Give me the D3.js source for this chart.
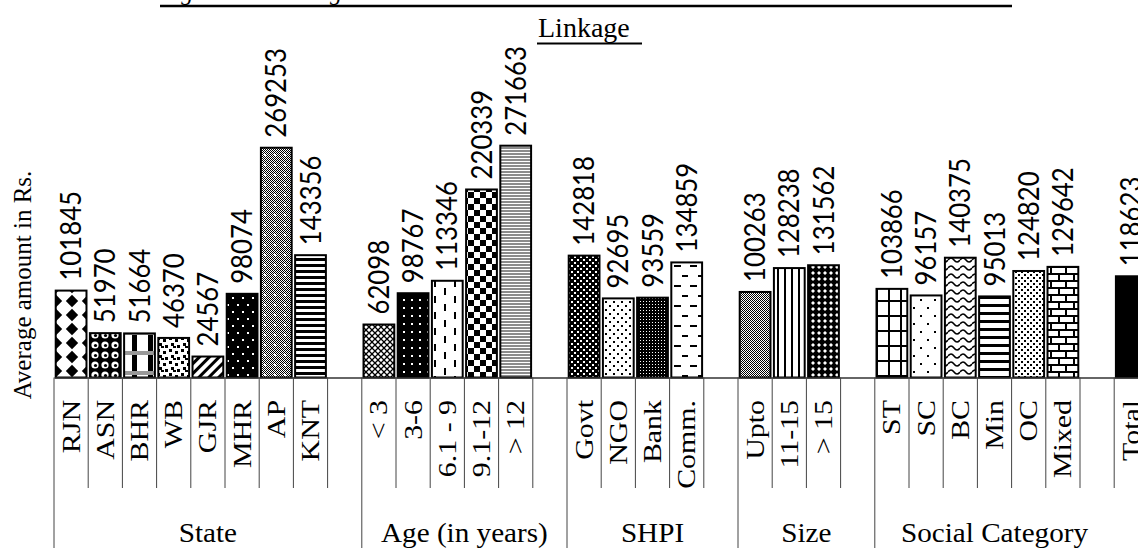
<!DOCTYPE html>
<html>
<head>
<meta charset="utf-8">
<script src="https://cdn.jsdelivr.net/npm/d3@7"></script>
<style>
  body { margin: 0; background: #fff; }
  svg { display: block; }
</style>
</head>
<body>
<script>
// categories and values, one list per group
const groupNames = ['State', 'Age (in years)', 'SHPI', 'Size', 'Social Category', '']
const states = ['RJN', 'ASN', 'BHR', 'WB', 'GJR', 'MHR', 'AP', 'KNT']
const stateValues = [101845, 51970, 51664, 46370, 24567, 98074, 269253, 143356]
const ages = ['< 3', '3-6', '6.1 - 9', '9.1-12', '> 12']
const ageValues = [62098, 98767, 113346, 220339, 271663]
const shpis = ['Govt', 'NGO', 'Bank', 'Comm.']
const shpiValues = [142818, 92695, 93559, 134859]
const sizes = ['Upto', '11-15', '> 15']
const sizeValues = [100263, 128238, 131562]
const socials = ['ST', 'SC', 'BC', 'Min', 'OC', 'Mixed']
const socialValues = [103866, 96157, 140375, 95013, 124820, 129642]
const totals = ['Total']
const totalValues = [118623]

const groupCats = [states, ages, shpis, sizes, socials, totals]
const groupValues = [stateValues, ageValues, shpiValues, sizeValues, socialValues, totalValues]

// fill pattern for each bar, in bar order
const barPatterns = [
  'diamond', 'sphere', 'plaid', 'confetti', 'updiag', 'blackdots', 'graydots', 'hstripe',
  'trellis', 'blackdots2', 'vdash', 'checker', 'grayline',
  'smallcheck', 'sparsedots', 'darkgrid', 'hdash',
  'gray50', 'vstripe', 'darkdiamond',
  'grid', 'dotgrid', 'wave', 'hwide', 'dots20', 'brick',
  'solid',
]

const width = 1138
const height = 548
const left = 54
const slotW = 34.2
const baseY = 377.5
const tickEnd = 488

// slots: each group's categories, then one empty slot
const slots = []
let barIndex = 0
groupNames.forEach((g, gi) => {
  groupCats[gi].forEach((c, ci) => {
    slots.push({ key: gi + '|' + c, cat: c, value: groupValues[gi][ci], group: gi, first: ci === 0, pat: barPatterns[barIndex++] })
  })
  slots.push({ key: gi + '|blank', cat: null, group: gi, first: false })
})

const svg = d3.select('body').append('svg').attr('width', width).attr('height', height)
const defs = svg.append('defs')

function pat(id, w, h, draw, transform) {
  const p = defs.append('pattern').attr('id', id)
    .attr('patternUnits', 'userSpaceOnUse').attr('width', w).attr('height', h)
    .attr('shape-rendering', 'crispEdges')
  if (transform) p.attr('patternTransform', transform)
  draw(p)
}
const rect = (p, x, y, w, h, fill) => p.append('rect').attr('x', x).attr('y', y).attr('width', w).attr('height', h).attr('fill', fill)

pat('diamond', 16, 14, (p) => {
  rect(p, 0, 0, 16, 14, '#fff')
  p.append('path').attr('d', 'M8,0.8L14.2,7L8,13.2L1.8,7Z').attr('fill', '#000').attr('shape-rendering', 'auto')
})
pat('sphere', 10, 10, (p) => {
  rect(p, 0, 0, 10, 10, '#000')
  p.append('circle').attr('cx', 5).attr('cy', 5).attr('r', 3.6).attr('fill', '#fff').attr('shape-rendering', 'auto')
  p.append('circle').attr('cx', 5.5).attr('cy', 5.5).attr('r', 1.6).attr('fill', '#000').attr('shape-rendering', 'auto')
})
pat('plaid', 16, 20, (p) => {
  rect(p, 0, 0, 16, 20, '#fff')
  rect(p, 4, 0, 5, 20, '#000')
  rect(p, 0, 11, 16, 4, '#999')
})
pat('confetti', 12, 12, (p) => {
  rect(p, 0, 0, 12, 12, '#fff')
  ;[[1, 1], [7, 3], [3, 7], [9, 9], [5, 10]].forEach(([x, y]) => rect(p, x, y, 3, 2.5, '#000'))
})
pat('updiag', 7, 7, (p) => {
  rect(p, 0, 0, 7, 7, '#fff')
  rect(p, 0, 0, 3, 7, '#000')
}, 'rotate(45)')
pat('blackdots', 10, 14, (p) => {
  rect(p, 0, 0, 10, 14, '#000')
  rect(p, 2, 3, 1.5, 1.5, '#fff')
  rect(p, 7, 10, 1.5, 1.5, '#fff')
})
pat('graydots', 10, 10, (p) => {
  rect(p, 0, 0, 10, 10, '#fff')
  for (let i = 0; i < 10; i++) for (let j = 0; j < 10; j++) if ((i + j) % 2 === 0) rect(p, i, j, 1, 1, '#000')
  rect(p, 4, 4, 2, 2, '#fff')
})
pat('hstripe', 6, 6, (p) => {
  rect(p, 0, 0, 6, 6, '#fff')
  rect(p, 0, 0, 6, 3, '#000')
})
pat('trellis', 6, 6, (p) => {
  rect(p, 0, 0, 6, 6, '#fff')
  p.append('path').attr('d', 'M0,0L6,6M6,0L0,6').attr('stroke', '#000').attr('stroke-width', 1.3).attr('shape-rendering', 'auto')
})
pat('blackdots2', 8, 8, (p) => {
  rect(p, 0, 0, 8, 8, '#000')
  rect(p, 3, 3, 1.5, 1.5, '#fff')
})
pat('vdash', 20, 16, (p) => {
  rect(p, 0, 0, 20, 16, '#fff')
  rect(p, 4, 0, 2, 7, '#000')
  rect(p, 14, 8, 2, 7, '#000')
})
pat('checker', 12, 12, (p) => {
  rect(p, 0, 0, 12, 12, '#fff')
  rect(p, 0, 0, 6, 6, '#000')
  rect(p, 6, 6, 6, 6, '#000')
})
pat('grayline', 4, 3, (p) => {
  rect(p, 0, 0, 4, 3, '#8c8c8c')
  rect(p, 0, 2, 4, 1, '#fff')
})
pat('smallcheck', 6, 6, (p) => {
  rect(p, 0, 0, 6, 6, '#000')
  rect(p, 1, 1, 2, 2, '#fff')
  rect(p, 4, 4, 2, 2, '#fff')
})
pat('sparsedots', 8, 8, (p) => {
  rect(p, 0, 0, 8, 8, '#fff')
  rect(p, 1, 1, 1.5, 1.5, '#000')
  rect(p, 5, 5, 1.5, 1.5, '#000')
})
pat('darkgrid', 3, 3, (p) => {
  rect(p, 0, 0, 3, 3, '#000')
  rect(p, 1, 1, 1, 1, '#fff')
})
pat('hdash', 16, 20, (p) => {
  rect(p, 0, 0, 16, 20, '#fff')
  rect(p, 2, 5, 7, 2, '#000')
  rect(p, 10, 15, 7, 2, '#000')
})
pat('gray50', 2, 2, (p) => {
  rect(p, 0, 0, 2, 2, '#fff')
  rect(p, 0, 0, 1, 1, '#000')
  rect(p, 1, 1, 1, 1, '#000')
})
pat('vstripe', 7, 7, (p) => {
  rect(p, 0, 0, 7, 7, '#fff')
  rect(p, 0, 0, 2, 7, '#000')
})
pat('darkdiamond', 6, 6, (p) => {
  rect(p, 0, 0, 6, 6, '#000')
  p.append('path').attr('d', 'M3,1L5,3L3,5L1,3Z').attr('fill', '#fff').attr('shape-rendering', 'auto')
})
pat('grid', 12, 15, (p) => {
  rect(p, 0, 0, 12, 15, '#fff')
  rect(p, 0, 0, 2, 15, '#000')
  rect(p, 0, 0, 12, 2, '#000')
})
pat('dotgrid', 14, 16, (p) => {
  rect(p, 0, 0, 14, 16, '#fff')
  rect(p, 3, 3, 2, 2, '#000')
  rect(p, 10, 11, 2, 2, '#000')
})
pat('wave', 12, 8, (p) => {
  rect(p, 0, 0, 12, 8, '#fff')
  p.append('path').attr('d', 'M0,4Q3,0 6,4T12,4').attr('fill', 'none').attr('stroke', '#000').attr('stroke-width', 1.6).attr('shape-rendering', 'auto')
})
pat('hwide', 8, 8, (p) => {
  rect(p, 0, 0, 8, 8, '#fff')
  rect(p, 0, 0, 8, 2.5, '#000')
})
pat('dots20', 6, 6, (p) => {
  rect(p, 0, 0, 6, 6, '#fff')
  rect(p, 1, 1, 1.5, 1.5, '#000')
  rect(p, 4, 4, 1.5, 1.5, '#000')
})
pat('brick', 15, 14, (p) => {
  rect(p, 0, 0, 15, 14, '#fff')
  rect(p, 0, 0, 15, 2, '#000')
  rect(p, 0, 7, 15, 2, '#000')
  rect(p, 0, 0, 2, 7, '#000')
  rect(p, 7.5, 7, 2, 7, '#000')
})
pat('solid', 4, 4, (p) => rect(p, 0, 0, 4, 4, '#000'))

const x = d3.scaleBand()
  .domain(slots.map((d) => d.key))
  .range([left, left + slots.length * slotW])
  .paddingInner(0)
const y = d3.scaleLinear().domain([0, 300000]).range([baseY, 121.5])
const bw = x.bandwidth()

// caption above the chart (only its lower edge is in view)
svg.append('text')
  .attr('x', 160).attr('y', 0)
  .attr('font-family', '"Liberation Serif", serif').attr('font-style', 'italic').attr('font-size', 24)
  .text('Figure 4.5: Average Amount Disbursed under SHG-Bank')
svg.append('line').attr('x1', 160).attr('x2', 1012).attr('y1', 6).attr('y2', 6)
  .attr('stroke', '#000').attr('stroke-width', 2.5)
svg.append('text')
  .attr('x', 538).attr('y', 37)
  .attr('font-family', '"Liberation Serif", serif').attr('font-size', 28)
  .text('Linkage')
svg.append('line').attr('x1', 537).attr('x2', 642).attr('y1', 43.5).attr('y2', 43.5)
  .attr('stroke', '#000').attr('stroke-width', 2)

const bars = slots.filter((d) => d.cat !== null)

svg.append('g')
  .selectAll('rect')
  .data(bars)
  .enter()
  .append('rect')
  .attr('x', (d) => x(d.key) + bw * 0.05)
  .attr('width', bw * 0.9)
  .attr('y', (d) => y(d.value))
  .attr('height', (d) => y(0) - y(d.value))
  .attr('fill', (d) => `url(#${d.pat})`)
  .attr('stroke', '#000')
  .attr('stroke-width', 2)

// value labels
svg.append('g')
  .selectAll('text')
  .data(bars)
  .enter()
  .append('text')
  .attr('transform', (d) => `translate(${x(d.key) + bw / 2 + 10},${y(d.value) - 10}) rotate(-90) scale(0.92,1)`)
  .attr('font-family', 'Lato, sans-serif')
  .attr('font-size', 28)
  .attr('fill', '#000')
  .text((d) => d.value)

// category axis
const axis = svg.append('g')
  .attr('transform', `translate(0,${baseY})`)
  .call(d3.axisBottom(x).tickSize(0).tickSizeOuter(0).tickFormat(''))
axis.select('.domain').attr('stroke', '#333').attr('stroke-width', 1.5)

svg.append('g')
  .selectAll('line')
  .data(slots)
  .enter()
  .append('line')
  .attr('x1', (d) => x(d.key))
  .attr('x2', (d) => x(d.key))
  .attr('y1', baseY)
  .attr('y2', (d) => (d.first && groupNames[d.group] !== '' ? height : tickEnd))
  .attr('stroke', '#444')
  .attr('stroke-width', 1)

svg.append('g')
  .selectAll('text')
  .data(bars)
  .enter()
  .append('text')
  .attr('transform', (d) => `translate(${x(d.key) + bw / 2 + 8.5},400) rotate(-90) scale(1.15,1)`)
  .attr('text-anchor', 'end')
  .attr('font-family', '"Liberation Serif", serif')
  .attr('font-size', 26)
  .text((d) => d.cat)

// group labels centred under their slots
svg.append('g')
  .selectAll('text')
  .data(groupNames.filter((g) => g !== ''))
  .enter()
  .append('text')
  .attr('transform', (g) => {
    const gi = groupNames.indexOf(g)
    const own = slots.filter((d) => d.group === gi)
    const cx = (x(own[0].key) + x(own[own.length - 1].key) + bw) / 2
    return `translate(${cx},542) scale(1.08,1)`
  })
  .attr('text-anchor', 'middle')
  .attr('font-family', '"Liberation Serif", serif')
  .attr('font-size', 27)
  .text((g) => g)

svg.append('text')
  .attr('transform', 'translate(31,285) rotate(-90)')
  .attr('text-anchor', 'middle')
  .attr('font-family', '"Liberation Serif", serif')
  .attr('font-size', 25)
  .text('Average amount in Rs.')
</script>
</body>
</html>
